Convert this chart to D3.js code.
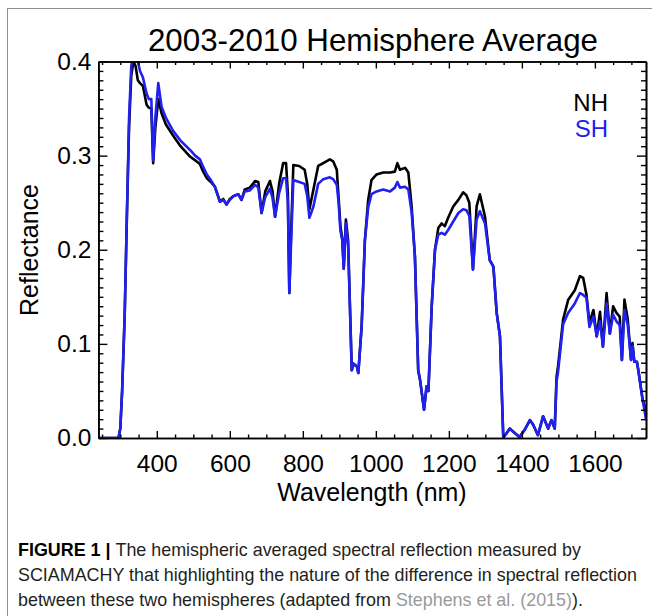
<!DOCTYPE html>
<html>
<head>
<meta charset="utf-8">
<script src="https://cdn.jsdelivr.net/npm/d3@7/dist/d3.min.js"></script>
<style>
  html, body { margin: 0; padding: 0; background: #fff; }
  svg { display: block; font-family: "Liberation Sans", Arial, Helvetica, sans-serif; }
</style>
</head>
<body>
<svg id="fig" width="652" height="616"></svg>
<script>
// SCIAMACHY hemispheric mean reflectance spectra, 2003-2010
const wavelength = [240, 270, 295, 300, 305, 312, 318, 324, 330, 336, 342, 348, 354, 362, 372, 378, 385, 390, 396, 404,
  413, 425, 445, 465, 491, 505, 518, 527, 537, 548, 559, 573, 582, 591, 600, 610, 623, 632, 641, 655,
  669, 678, 687, 697, 710, 717, 724, 735, 746, 754, 759, 763, 768, 774, 790, 805, 812, 818, 829, 842,
  856, 874, 883, 893, 898, 903, 908, 912, 918, 924, 934, 939, 948, 952, 961, 970, 979, 988, 1002, 1020,
  1039, 1052, 1059, 1066, 1080, 1089, 1098, 1107, 1116, 1121, 1132, 1139, 1144, 1153, 1162, 1171, 1180, 1189, 1198, 1212,
  1226, 1239, 1248, 1256, 1266, 1276, 1285, 1299, 1312, 1322, 1331, 1340, 1349, 1358, 1367, 1381, 1394, 1408, 1422, 1431,
  1444, 1458, 1472, 1481, 1490, 1495, 1499, 1513, 1527, 1545, 1559, 1568, 1577, 1585, 1596, 1605, 1614, 1622, 1632, 1641,
  1650, 1659, 1668, 1674, 1681, 1690, 1699, 1703, 1708, 1715, 1719, 1731, 1740];

const nh = [0, 0, 0, 0.01, 0.05, 0.13, 0.235, 0.33, 0.385, 0.40, 0.395, 0.38, 0.377, 0.374, 0.354, 0.351, 0.35, 0.292, 0.33, 0.36,
  0.345, 0.333, 0.321, 0.31, 0.299, 0.295, 0.291, 0.283, 0.276, 0.272, 0.267, 0.251, 0.254, 0.248, 0.254, 0.257, 0.259, 0.253, 0.264, 0.266,
  0.273, 0.272, 0.239, 0.262, 0.273, 0.262, 0.235, 0.27, 0.292, 0.292, 0.26, 0.154, 0.22, 0.29, 0.289, 0.285, 0.27, 0.243, 0.264, 0.289,
  0.292, 0.296, 0.294, 0.285, 0.255, 0.225, 0.212, 0.18, 0.232, 0.21, 0.072, 0.079, 0.076, 0.069, 0.118, 0.21, 0.253, 0.274, 0.28, 0.282,
  0.282, 0.283, 0.292, 0.285, 0.287, 0.282, 0.246, 0.193, 0.072, 0.062, 0.03, 0.055, 0.05, 0.14, 0.2, 0.223, 0.228, 0.225, 0.234, 0.246,
  0.253, 0.261, 0.258, 0.25, 0.179, 0.246, 0.259, 0.235, 0.189, 0.182, 0.133, 0.108, 0.001, 0.005, 0.01, 0.005, 0.001, 0.009, 0.019, 0.014,
  0.003, 0.023, 0.01, 0.019, 0.01, 0.065, 0.076, 0.126, 0.147, 0.157, 0.172, 0.17, 0.152, 0.122, 0.136, 0.108, 0.134, 0.097, 0.154, 0.111,
  0.14, 0.133, 0.129, 0.083, 0.147, 0.126, 0.083, 0.101, 0.081, 0.081, 0.072, 0.04, 0.03];

const sh = [0, 0, 0, 0.01, 0.05, 0.13, 0.235, 0.34, 0.395, 0.41, 0.405, 0.40, 0.39, 0.383, 0.366, 0.36, 0.36, 0.295, 0.34, 0.377,
  0.352, 0.34, 0.326, 0.316, 0.306, 0.30, 0.296, 0.288, 0.28, 0.274, 0.267, 0.251, 0.253, 0.248, 0.253, 0.257, 0.259, 0.253, 0.262, 0.263,
  0.269, 0.266, 0.239, 0.256, 0.265, 0.255, 0.235, 0.26, 0.276, 0.276, 0.25, 0.154, 0.21, 0.274, 0.272, 0.27, 0.257, 0.234, 0.246, 0.27,
  0.275, 0.277, 0.275, 0.269, 0.25, 0.22, 0.21, 0.18, 0.228, 0.205, 0.072, 0.079, 0.076, 0.069, 0.118, 0.21, 0.245, 0.259, 0.262, 0.264,
  0.262, 0.266, 0.272, 0.266, 0.267, 0.264, 0.24, 0.193, 0.072, 0.062, 0.03, 0.055, 0.05, 0.14, 0.2, 0.216, 0.218, 0.216, 0.221, 0.23,
  0.239, 0.243, 0.242, 0.236, 0.179, 0.232, 0.241, 0.228, 0.189, 0.182, 0.133, 0.108, 0.001, 0.005, 0.01, 0.005, 0.001, 0.009, 0.019, 0.014,
  0.003, 0.023, 0.01, 0.019, 0.01, 0.06, 0.07, 0.121, 0.133, 0.143, 0.154, 0.152, 0.149, 0.118, 0.129, 0.108, 0.124, 0.097, 0.143, 0.111,
  0.131, 0.124, 0.12, 0.083, 0.136, 0.12, 0.083, 0.098, 0.081, 0.081, 0.072, 0.04, 0.02];

const xMajorTicks = [400, 600, 800, 1000, 1200, 1400, 1600];
const yMajorTicks = [0.0, 0.1, 0.2, 0.3, 0.4];
const seriesNames = ["NH", "SH"];
const seriesColors = ["#000000", "#2020f0"];

const svg = d3.select("#fig");

// outer figure frame (top and left edges fall inside the page)
svg.append("rect")
  .attr("x", 7.5).attr("y", 8.5)
  .attr("width", 700).attr("height", 700)
  .attr("fill", "none").attr("stroke", "#8f8f8f").attr("stroke-width", 1);

const plot = { left: 98.4, right: 646, top: 61.5, bottom: 438 };

const x = d3.scaleLinear().domain([240, 1740]).range([plot.left, plot.right]);
const y = d3.scaleLinear().domain([0, 0.4]).range([plot.bottom, plot.top]);

const xMinorTicks = d3.range(250, 1741, 50).filter(v => !xMajorTicks.includes(v));
const yMinorTicks = d3.range(1, 40).map(i => i / 100).filter(v => Math.round(v * 100) % 10 !== 0);

// clip region for the spectra
svg.append("clipPath").attr("id", "plotClip")
  .append("rect")
  .attr("x", plot.left).attr("y", plot.top)
  .attr("width", plot.right - plot.left).attr("height", plot.bottom - plot.top);

const line = d3.line().x((d, i) => x(wavelength[i])).y(d => y(d));

const lines = svg.append("g").attr("clip-path", "url(#plotClip)");
[nh, sh].forEach((vals, k) => {
  lines.append("path")
    .datum(vals)
    .attr("d", line)
    .attr("fill", "none")
    .attr("stroke", seriesColors[k])
    .attr("stroke-width", 2.6)
    .attr("stroke-linejoin", "round");
});

// axes: ticks point inward on all four sides
const tickFont = 24.5;
function styleAxis(g) {
  g.selectAll("path.domain").attr("stroke", "#000").attr("stroke-width", 1.6);
  g.selectAll(".tick line").attr("stroke", "#000").attr("stroke-width", 1.4);
  g.selectAll("text").attr("fill", "#000").attr("font-size", tickFont)
    .attr("font-family", "'Liberation Sans', Arial, sans-serif");
}
function noLabels(g) {
  g.selectAll(".tick text").remove();
}

// bottom
svg.append("g").attr("transform", `translate(0,${plot.bottom})`)
  .call(d3.axisBottom(x).tickValues(xMinorTicks).tickSizeInner(-3.5).tickSizeOuter(0))
  .call(styleAxis).call(noLabels);
svg.append("g").attr("transform", `translate(0,${plot.bottom})`)
  .call(d3.axisBottom(x).tickValues(xMajorTicks).tickSizeInner(-7).tickSizeOuter(0).tickPadding(16.5).tickFormat(d3.format("d")))
  .call(styleAxis);
// top
svg.append("g").attr("transform", `translate(0,${plot.top})`)
  .call(d3.axisTop(x).tickValues(xMinorTicks).tickSizeInner(-3.5).tickSizeOuter(0))
  .call(styleAxis).call(noLabels);
svg.append("g").attr("transform", `translate(0,${plot.top})`)
  .call(d3.axisTop(x).tickValues(xMajorTicks).tickSizeInner(-7).tickSizeOuter(0))
  .call(styleAxis).call(noLabels);
// left
svg.append("g").attr("transform", `translate(${plot.left},0)`)
  .call(d3.axisLeft(y).tickValues(yMinorTicks).tickSizeInner(-5).tickSizeOuter(0))
  .call(styleAxis).call(noLabels);
svg.append("g").attr("transform", `translate(${plot.left},0)`)
  .call(d3.axisLeft(y).tickValues(yMajorTicks).tickSizeInner(-9).tickSizeOuter(0).tickPadding(7).tickFormat(d3.format(".1f")))
  .call(styleAxis);
// right
svg.append("g").attr("transform", `translate(${plot.right},0)`)
  .call(d3.axisRight(y).tickValues(yMinorTicks).tickSizeInner(-5).tickSizeOuter(0))
  .call(styleAxis).call(noLabels);
svg.append("g").attr("transform", `translate(${plot.right},0)`)
  .call(d3.axisRight(y).tickValues(yMajorTicks).tickSizeInner(-9).tickSizeOuter(0))
  .call(styleAxis).call(noLabels);

// title and axis titles
svg.append("text")
  .attr("x", 373).attr("y", 51)
  .attr("text-anchor", "middle").attr("font-size", 31.3).attr("fill", "#000")
  .text("2003-2010 Hemisphere Average");

svg.append("text")
  .attr("x", 372).attr("y", 500.5)
  .attr("text-anchor", "middle").attr("font-size", 25).attr("fill", "#000")
  .text("Wavelength (nm)");

svg.append("text")
  .attr("transform", "translate(38,250) rotate(-90)")
  .attr("text-anchor", "middle").attr("font-size", 25).attr("fill", "#000")
  .text("Reflectance");

// legend
seriesNames.forEach((name, k) => {
  svg.append("text")
    .attr("x", 608).attr("y", 111 + k * 26)
    .attr("text-anchor", "end").attr("font-size", 24)
    .attr("fill", seriesColors[k])
    .text(name);
});

// caption
const captionSize = 17.9;
const cap = svg.append("g").attr("font-size", captionSize).attr("fill", "#231f20");
const l1 = cap.append("text").attr("x", 18).attr("y", 556);
l1.append("tspan").attr("font-weight", "bold").attr("fill", "#000").text("FIGURE 1 | ");
l1.append("tspan").text("The hemispheric averaged spectral reflection measured by");
cap.append("text").attr("x", 18).attr("y", 581)
  .text("SCIAMACHY that highlighting the nature of the difference in spectral reflection");
const l3 = cap.append("text").attr("x", 18).attr("y", 606);
l3.append("tspan").text("between these two hemispheres (adapted from ");
l3.append("tspan").attr("fill", "#9a9a9a").text("Stephens et al. (2015)");
l3.append("tspan").text(").");
</script>
</body>
</html>
